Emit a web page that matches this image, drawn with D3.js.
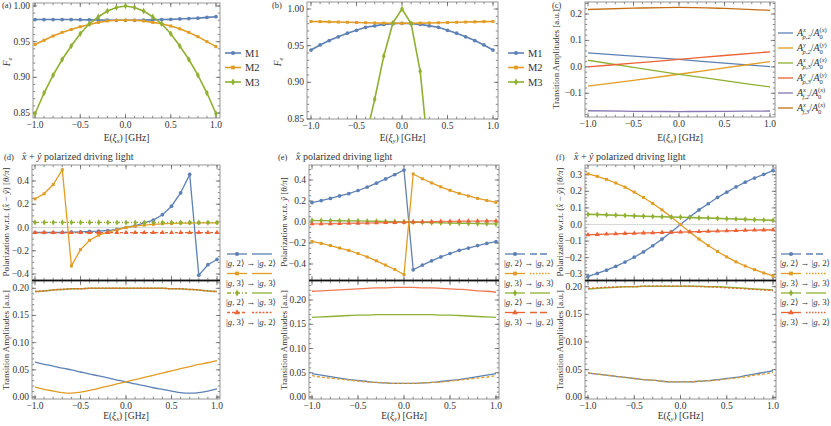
<!DOCTYPE html>
<html>
<head>
<meta charset="utf-8">
<script src="https://cdn.jsdelivr.net/npm/d3@7"></script>
<style>
body{margin:0;background:#fff;}
svg text{font-family:"Liberation Serif","Times New Roman","DejaVu Serif",serif;fill:#333;}
</style>
</head>
<body>
<script>
// ---- data ----
var xs = [-1.0,-0.9,-0.8,-0.7,-0.6,-0.5,-0.4,-0.3,-0.2,-0.1,0.0,0.1,0.2,0.3,0.4,0.5,0.6,0.7,0.8,0.9,1.0];
var xsC = [-1.0,-0.5,0.0,0.5,1.0];
var xsB3 = [-0.4,-0.3,-0.2,-0.1,0.0,0.1,0.2,0.3];
var xTicks = [-1.0,-0.5,0.0,0.5,1.0];
var fTicks = [0.85,0.90,0.95,1.00];
var cTicks = [-0.1,0.0,0.1,0.2];
var polTicksDE = [-0.4,-0.2,0.0,0.2,0.4];
var polTicksF = [-0.3,-0.2,-0.1,0.0,0.1,0.2,0.3];
var ampTicks = [0.00,0.05,0.10,0.15,0.20];
var mNames = ["M1","M2","M3"];

// (a)
var aM1 = [0.981,0.981,0.981,0.981,0.981,0.9808,0.9806,0.9804,0.9802,0.980,0.980,0.980,0.9802,0.9805,0.981,0.9813,0.9818,0.9824,0.983,0.984,0.985];
var aM2 = [0.946,0.952,0.958,0.963,0.967,0.971,0.974,0.977,0.979,0.980,0.980,0.980,0.979,0.977,0.975,0.972,0.968,0.963,0.957,0.950,0.943];
var aM3 = [0.849,0.878,0.903,0.925,0.944,0.961,0.975,0.985,0.993,0.998,1.000,0.998,0.993,0.985,0.975,0.961,0.944,0.925,0.903,0.878,0.849];
// (b)
var bM1 = [0.944,0.951,0.957,0.962,0.967,0.971,0.975,0.977,0.979,0.980,0.9805,0.980,0.979,0.977,0.975,0.971,0.967,0.962,0.957,0.951,0.944];
var bM2 = [0.983,0.9828,0.9825,0.9822,0.9819,0.9816,0.9813,0.981,0.9808,0.9806,0.9805,0.9806,0.9808,0.981,0.9813,0.9816,0.9819,0.9822,0.9825,0.9828,0.983];
var bM3 = [0.823,0.877,0.936,0.981,1.000,0.980,0.915,0.790];
// (c)
var cNames = [["x","p,2","x"],["y","p,2","y"],["x","p,3","x"],["y","p,3","y"],["x","f,2","x"],["x","f,3","x"]];
var cA1 = [0.053,0.041,0.028,0.014,0.001];
var cA2 = [-0.073,-0.051,-0.028,-0.004,0.020];
var cA3 = [0.025,-0.002,-0.028,-0.052,-0.076];
var cA4 = [0.000,0.014,0.028,0.043,0.057];
var cA5 = [-0.166,-0.168,-0.169,-0.168,-0.167];
var cA6 = [0.217,0.222,0.225,0.221,0.214];
// (d) polarization
var dBlue = [-0.043,-0.043,-0.043,-0.043,-0.040,-0.037,-0.034,-0.031,-0.026,-0.017,0.000,0.015,0.040,0.063,0.110,0.183,0.297,0.457,-0.410,-0.320,-0.275];
var dOrange = [0.246,0.290,0.370,0.497,-0.330,-0.190,-0.110,-0.066,-0.040,-0.020,0.000,0.012,0.020,0.027,0.032,0.035,0.037,0.038,0.039,0.040,0.040];
var dGreen = [0.044,0.044,0.044,0.044,0.044,0.044,0.044,0.044,0.043,0.043,0.043,0.043,0.043,0.043,0.043,0.043,0.043,0.043,0.043,0.043,0.043];
var dRed = [-0.044,-0.044,-0.044,-0.044,-0.044,-0.044,-0.044,-0.044,-0.044,-0.044,-0.044,-0.044,-0.044,-0.044,-0.044,-0.044,-0.044,-0.044,-0.044,-0.044,-0.044];
// (d) amplitudes
var dLowBlue = [0.064,0.060,0.057,0.053,0.050,0.046,0.042,0.039,0.035,0.031,0.028,0.024,0.021,0.017,0.014,0.011,0.008,0.007,0.008,0.011,0.015];
var dLowOrange = [0.018,0.014,0.011,0.008,0.007,0.009,0.012,0.016,0.020,0.024,0.028,0.032,0.036,0.040,0.044,0.048,0.052,0.056,0.060,0.063,0.067];
var dLowGreen = [0.194,0.195,0.197,0.198,0.199,0.199,0.200,0.200,0.200,0.200,0.200,0.200,0.200,0.200,0.200,0.199,0.199,0.198,0.197,0.195,0.194];
var dLowRed = [0.194,0.195,0.197,0.198,0.199,0.199,0.200,0.200,0.200,0.200,0.200,0.200,0.200,0.200,0.200,0.199,0.199,0.198,0.197,0.195,0.194];
// (e) polarization
var eBlue = [0.185,0.204,0.224,0.248,0.270,0.300,0.333,0.370,0.410,0.452,0.495,-0.455,-0.410,-0.370,-0.333,-0.300,-0.270,-0.248,-0.224,-0.204,-0.187];
var eOrange = [-0.185,-0.204,-0.224,-0.248,-0.270,-0.300,-0.333,-0.370,-0.410,-0.452,-0.500,0.458,0.412,0.372,0.335,0.302,0.272,0.248,0.225,0.205,0.187];
var eGreen = [0.015,0.014,0.013,0.012,0.011,0.010,0.008,0.007,0.005,0.003,0.001,-0.002,-0.004,-0.006,-0.008,-0.010,-0.012,-0.014,-0.015,-0.017,-0.018];
var eRed = [-0.018,-0.017,-0.016,-0.015,-0.013,-0.012,-0.010,-0.008,-0.006,-0.004,-0.002,0.000,0.002,0.003,0.005,0.006,0.007,0.008,0.009,0.010,0.011];
// (e) amplitudes
var eLowBlue = [0.048,0.045,0.042,0.039,0.036,0.034,0.032,0.030,0.029,0.028,0.028,0.028,0.029,0.030,0.032,0.034,0.036,0.039,0.042,0.045,0.048];
var eLowOrange = [0.044,0.041,0.039,0.037,0.035,0.033,0.031,0.030,0.029,0.028,0.028,0.028,0.029,0.030,0.031,0.033,0.035,0.037,0.039,0.041,0.044];
var eLowGreen = [0.164,0.165,0.166,0.167,0.168,0.169,0.169,0.170,0.170,0.170,0.170,0.170,0.170,0.170,0.169,0.169,0.168,0.167,0.166,0.165,0.164];
var eLowRed = [0.218,0.219,0.220,0.221,0.222,0.223,0.224,0.225,0.225,0.226,0.226,0.226,0.225,0.225,0.224,0.223,0.222,0.221,0.219,0.218,0.216];
// (f) polarization
var fBlue = [-0.312,-0.295,-0.275,-0.252,-0.226,-0.197,-0.165,-0.128,-0.088,-0.045,0.000,0.045,0.088,0.125,0.163,0.195,0.226,0.255,0.280,0.302,0.325];
var fOrange = [0.305,0.290,0.272,0.250,0.225,0.195,0.163,0.127,0.088,0.045,0.000,-0.045,-0.088,-0.127,-0.163,-0.195,-0.225,-0.250,-0.272,-0.292,-0.310];
var fGreen = [0.061,0.060,0.058,0.056,0.054,0.052,0.050,0.048,0.047,0.045,0.044,0.042,0.040,0.039,0.037,0.035,0.033,0.031,0.029,0.027,0.025];
var fRed = [-0.062,-0.060,-0.058,-0.056,-0.054,-0.053,-0.051,-0.050,-0.048,-0.047,-0.046,-0.044,-0.043,-0.041,-0.040,-0.038,-0.037,-0.035,-0.034,-0.033,-0.032];
// (f) amplitudes
var fLowBlue = [0.044,0.042,0.040,0.038,0.036,0.034,0.032,0.031,0.029,0.028,0.028,0.028,0.029,0.030,0.032,0.034,0.036,0.039,0.042,0.045,0.048];
var fLowOrange = [0.044,0.042,0.040,0.038,0.036,0.034,0.032,0.031,0.029,0.028,0.028,0.028,0.029,0.030,0.031,0.033,0.035,0.037,0.040,0.042,0.045];
var fLowGreen = [0.196,0.197,0.198,0.199,0.200,0.200,0.201,0.201,0.201,0.201,0.201,0.201,0.201,0.200,0.200,0.199,0.198,0.197,0.196,0.195,0.194];
var fLowRed = [0.197,0.198,0.199,0.199,0.200,0.200,0.201,0.201,0.201,0.201,0.201,0.201,0.200,0.200,0.199,0.198,0.197,0.196,0.195,0.194,0.193];

var C = {blue:"#5e81b5", orange:"#e19c24", green:"#8fb032", red:"#eb6235", purple:"#8778b3", brown:"#c56e1a"};
var symbols = {circle:d3.symbolCircle, square:d3.symbolSquare, diamond:d3.symbolDiamond, triangle:d3.symbolTriangle};
var SERIF = "'Liberation Serif','Times New Roman','DejaVu Serif',serif";

var svg = d3.select("body").append("svg")
  .attr("width", 831).attr("height", 426)
  .attr("font-family", SERIF);
var defs = svg.append("defs");
var clipId = 0;

function minus(s){ return s.replace("-", "\u2212"); }

// frame with inward major/minor ticks on all sides, Mathematica style
function frame(box, x, y, yTicks, yFmt, yStep, showX){
  var L = box[0], R = box[1], T = box[2], B = box[3];
  var g = svg.append("g");
  var xMinor = d3.range(-10, 11).map(function(d){ return d/10; });
  var y0 = y.invert(B), y1 = y.invert(T);
  var yMinor = d3.range(Math.ceil(y0/yStep - 1e-6), Math.floor(y1/yStep + 1e-6) + 1).map(function(k){ return k*yStep; });
  function tk(vals, len, axis){
    vals.forEach(function(v){
      if (axis == "x"){
        var px = x(v);
        if (px < L || px > R) return;
        g.append("line").attr("x1",px).attr("x2",px).attr("y1",B).attr("y2",B-len).attr("stroke","#555").attr("stroke-width",0.7);
        g.append("line").attr("x1",px).attr("x2",px).attr("y1",T).attr("y2",T+len).attr("stroke","#555").attr("stroke-width",0.7);
      } else {
        var py = y(v);
        if (py < T-0.5 || py > B+0.5) return;
        g.append("line").attr("y1",py).attr("y2",py).attr("x1",L).attr("x2",L+len).attr("stroke","#555").attr("stroke-width",0.7);
        g.append("line").attr("y1",py).attr("y2",py).attr("x1",R).attr("x2",R-len).attr("stroke","#555").attr("stroke-width",0.7);
      }
    });
  }
  tk(xMinor, 2.2, "x");
  tk(xTicks, 4.2, "x");
  tk(yMinor, 2.2, "y");
  tk(yTicks, 4.2, "y");
  g.append("rect").attr("x",L).attr("y",T).attr("width",R-L).attr("height",B-T)
    .attr("fill","none").attr("stroke","#8a8a8a").attr("stroke-width",0.9);
  yTicks.forEach(function(v){
    g.append("text").attr("x", L-3).attr("y", y(v)+3).attr("text-anchor","end")
      .attr("font-size", 9.5).text(minus(yFmt(v)));
  });
  if (showX){
    xTicks.forEach(function(v){
      g.append("text").attr("x", x(v)).attr("y", B+10).attr("text-anchor","middle")
        .attr("font-size", 9.5).text(minus(d3.format(".1f")(v)));
    });
  }
  var id = "clip" + (clipId++);
  defs.append("clipPath").attr("id", id).append("rect")
    .attr("x",L).attr("y",T).attr("width",R-L).attr("height",B-T);
  return svg.append("g").attr("clip-path","url(#"+id+")");
}

function series(g, xv, yv, x, y, st){
  var line = d3.line().x(function(d){ return x(d[0]); }).y(function(d){ return y(d[1]); });
  if (st.smooth) line.curve(d3.curveMonotoneX);
  var pts = xv.map(function(v,i){ return [v, yv[i]]; });
  g.append("path").datum(pts).attr("d", line).attr("fill","none")
    .attr("stroke", st.color).attr("stroke-width", st.width || 1.3)
    .attr("stroke-dasharray", st.dash || null).attr("stroke-opacity", st.opacity || 1);
  if (st.marker){
    g.selectAll(null).data(pts).enter().append("path")
      .attr("d", d3.symbol().type(symbols[st.marker]).size(st.msize || 11))
      .attr("transform", function(d){ return "translate("+x(d[0])+","+y(d[1])+")"; })
      .attr("fill", st.color);
  }
}

function ylabel(px, py, fs, build){
  var t = svg.append("text").attr("transform","translate("+px+","+py+") rotate(-90)")
    .attr("text-anchor","middle").attr("font-size", fs);
  build(t);
  return t;
}
function xlabel(px, py, sub){
  var t = svg.append("text").attr("x",px).attr("y",py).attr("text-anchor","middle").attr("font-size",9.5);
  t.append("tspan").text("E(");
  t.append("tspan").attr("font-style","italic").text("\u03be");
  t.append("tspan").attr("font-style","italic").attr("font-size",6.5).attr("dy",2).text(sub);
  t.append("tspan").attr("dy",-2).text(") [GHz]");
}
function tag(px, py, s){
  svg.append("text").attr("x",px).attr("y",py).attr("font-size",8.5).text(s);
}
function feLabel(px){
  ylabel(px, 62, 9.5, function(t){
    t.append("tspan").attr("font-style","italic").text("F");
    t.append("tspan").attr("font-style","italic").attr("font-size",6.5).attr("dy",2).text("e");
  });
}
function ampLabel(px, py){
  ylabel(px, py, 8.5, function(t){ t.text("Transition Amplitudes [a.u.]"); })
    .attr("textLength", 100).attr("lengthAdjust", "spacingAndGlyphs");
}
function polLabel(px, py, diag){
  ylabel(px, py, 9, function(t){
    t.append("tspan").text("Polarization w.r.t. ");
    if (diag){
      t.append("tspan").text("(");
      t.append("tspan").attr("font-style","italic").text("x\u0302");
      t.append("tspan").text(" \u2212 ");
      t.append("tspan").attr("font-style","italic").text("y\u0302");
      t.append("tspan").text(")");
    } else {
      t.append("tspan").attr("font-style","italic").text("y\u0302");
    }
    t.append("tspan").text(" [");
    t.append("tspan").attr("font-style","italic").text("\u03b8/\u03c0");
    t.append("tspan").text("]");
  });
}
function title(px, py, tx, diag){
  tag(px, py, tx);
  var t = svg.append("text").attr("x", px + 18).attr("y", py).attr("font-size", 10);
  t.append("tspan").attr("font-style","italic").text("x\u0302");
  if (diag){
    t.append("tspan").text(" + ");
    t.append("tspan").attr("font-style","italic").text("y\u0302");
  }
  t.append("tspan").text(" polarized driving light");
}

// ---------- (a) and (b) ----------
function fidelity(box, xr, yr, tagX, labelX, legX, m1, m2, m3, m3x, sub){
  var x = d3.scaleLinear().domain([-1,1]).range(xr);
  var y = d3.scaleLinear().domain([0.85,1.00]).range(yr);
  var g = frame(box, x, y, fTicks, d3.format(".2f"), 0.01, true);
  series(g, xs, m1, x, y, {color:C.blue, width:1.6, marker:"circle"});
  series(g, xs, m2, x, y, {color:C.orange, width:1.6, marker:"square", msize:9});
  series(g, m3x, m3, x, y, {color:C.green, width:1.6, marker:"diamond", msize:12});
  tag(tagX, 8, sub == "x" ? "(a)" : "(b)");
  feLabel(labelX);
  xlabel((box[0]+box[1])/2, 141, sub);
  var cols = [C.blue, C.orange, C.green], mk = ["circle","square","diamond"];
  mNames.forEach(function(n,i){
    var ly = 53 + i*14.5;
    var lg = svg.append("g");
    var lx = d3.scaleLinear().domain([0,1]).range([legX, legX+16]);
    var ls = d3.scaleLinear().domain([0,1]).range([ly, ly]);
    series(lg, [0,1], [0.5,0.5], lx, ls, {color:cols[i], width:1.6});
    series(lg, [0.5], [0.5], lx, ls, {color:cols[i], width:0, marker:mk[i], msize:14});
    svg.append("text").attr("x", legX+20).attr("y", ly+3.5).attr("font-size",10.5).text(n);
  });
}
fidelity([33,220,3,118], [35,216], [113,6], 2, 10, 225, aM1, aM2, aM3, xs, "x");
fidelity([307,498,2,119], [311,493], [119,9], 272, 281, 508, bM1, bM2, bM3, xsB3, "y");

// ---------- (c) ----------
(function(){
  var box = [585,775,2,117];
  var x = d3.scaleLinear().domain([-1,1]).range([588,770]);
  var y = d3.scaleLinear().domain([-0.1,0.2]).range([93.3,14]);
  var g = frame(box, x, y, cTicks, d3.format(".1f"), 0.02, true);
  var sets = [cA1,cA2,cA3,cA4,cA5,cA6];
  var cols = [C.blue,C.orange,C.green,C.red,C.purple,C.brown];
  sets.forEach(function(s,i){ series(g, xsC, s, x, y, {color:cols[i], width:1.3, smooth:true}); });
  tag(552, 8, "(c)");
  ampLabel(559, 59);
  xlabel(680, 141, "x");
  cNames.forEach(function(n,i){
    var ly = 33 + i*15;
    var lg = svg.append("g");
    var lx = d3.scaleLinear().domain([0,1]).range([778,793]);
    var ls = d3.scaleLinear().domain([0,1]).range([ly,ly]);
    series(lg, [0,1], [0,0], lx, ls, {color:cols[i], width:1.3});
    var t = svg.append("text").attr("x", 797).attr("y", ly+3).attr("font-size", 10);
    t.append("tspan").attr("font-style","italic").text("A");
    t.append("tspan").attr("font-style","italic").attr("font-size",6.5).attr("dy",-4).text(n[0]);
    t.append("tspan").attr("font-style","italic").attr("font-size",6.5).attr("dx",-3.5).attr("dy",7).text(n[1]);
    t.append("tspan").attr("dy",-3).text("/");
    t.append("tspan").attr("font-style","italic").text("A");
    t.append("tspan").attr("font-size",6.5).attr("dy",3).text("0");
    t.append("tspan").attr("font-size",6.5).attr("dx",-3.3).attr("dy",-7.5).text("(");
    t.append("tspan").attr("font-size",6.5).attr("font-style","italic").text(n[2]);
    t.append("tspan").attr("font-size",6.5).text(")");
  });
})();

// ---------- (d), (e), (f) ----------
var states = [["2","2"],["3","3"],["2","3"],["3","2"]];
function combo(o){
  var xr = o.xr;
  var x = d3.scaleLinear().domain([-1,1]).range(xr);
  var yU = d3.scaleLinear().domain([o.uTicks[0], o.uTicks[o.uTicks.length-1]]).range(o.uRange);
  var yL = d3.scaleLinear().domain([0,0.2]).range(o.lRange);
  var gU = frame([o.L,o.R,165,280], x, yU, o.uTicks, d3.format(".1f"), o.uStep, false);
  gU.append("line").attr("x1",o.L).attr("x2",o.R).attr("y1",yU(0)).attr("y2",yU(0))
    .attr("stroke","#cfcfcf").attr("stroke-width",0.8);
  o.upper.forEach(function(s){ series(gU, xs, s.data, x, yU, s.st); });
  var gL = frame([o.L,o.R,281,399], x, yL, ampTicks, d3.format(".2f"), 0.01, true);
  o.lower.forEach(function(s){ series(gL, xs, s.data, x, yL, s.st); });
  svg.append("line").attr("x1",o.L).attr("x2",o.R).attr("y1",280.5).attr("y2",280.5)
    .attr("stroke","#111").attr("stroke-width",1.6);
  title(o.tagX, 160, o.tag, o.diag);
  polLabel(o.labX, 222, o.diagLabel);
  ampLabel(o.labX, 340);
  xlabel((o.L+o.R)/2, 419, o.sub);
  // legend
  var rows = [254, 273.5, 293, 312.5];
  o.legend.forEach(function(st,i){
    var ly = rows[i];
    var lg = svg.append("g");
    var lx = d3.scaleLinear().domain([0,1]).range([o.legX, o.legX+20]);
    var lx2 = d3.scaleLinear().domain([0,1]).range([o.legX+25, o.legX+45]);
    var ls = d3.scaleLinear().domain([0,1]).range([ly,ly]);
    series(lg, [0,1], [0,0], lx, ls, {color:st.color, width:1.3, dash:st.d1});
    series(lg, [0.5], [0], lx, ls, {color:st.color, width:0, marker:st.marker, msize:14});
    series(lg, [0,1], [0,0], lx2, ls, {color:st.color, width:1.3, dash:st.d2});
    var t = svg.append("text").attr("x", o.legX-1).attr("y", ly+12).attr("font-size", 8.8);
    t.append("tspan").text("|");
    t.append("tspan").attr("font-style","italic").text("g");
    t.append("tspan").text(", " + states[i][0] + "\u27e9 \u2192 |");
    t.append("tspan").attr("font-style","italic").text("g");
    t.append("tspan").text(", " + states[i][1] + "\u27e9");
  });
}

combo({
  L:32, R:220, xr:[35,217], uTicks:polTicksDE, uRange:[274,181], uStep:0.05, lRange:[397,288.3],
  tag:"(d)", tagX:4, diag:true, diagLabel:true, labX:9, legX:227, sub:"x",
  upper:[
    {data:dBlue, st:{color:C.blue, marker:"circle"}},
    {data:dOrange, st:{color:C.orange, marker:"square", msize:9}},
    {data:dGreen, st:{color:C.green, marker:"diamond", dash:"4,2,1,2"}},
    {data:dRed, st:{color:C.red, marker:"triangle", dash:"3,2"}}
  ],
  lower:[
    {data:dLowBlue, st:{color:C.blue, smooth:true}},
    {data:dLowOrange, st:{color:C.orange, smooth:true}},
    {data:dLowGreen, st:{color:C.green, smooth:true, width:1.5}},
    {data:dLowRed, st:{color:C.red, smooth:true, dash:"2,1.5", width:1.5}}
  ],
  legend:[
    {color:C.blue, marker:"circle"},
    {color:C.orange, marker:"square"},
    {color:C.green, marker:"diamond", d1:"4,2,1,2"},
    {color:C.red, marker:"triangle", d1:"3,2", d2:"2,1.5"}
  ]
});

combo({
  L:309, R:499, xr:[312,496], uTicks:polTicksDE, uRange:[264,180], uStep:0.05, lRange:[397,300],
  tag:"(e)", tagX:278, diag:false, diagLabel:false, labX:287, legX:505, sub:"y",
  upper:[
    {data:eBlue, st:{color:C.blue, marker:"circle"}},
    {data:eOrange, st:{color:C.orange, marker:"square", msize:9}},
    {data:eGreen, st:{color:C.green, marker:"diamond"}},
    {data:eRed, st:{color:C.red, marker:"triangle", opacity:0.8}}
  ],
  lower:[
    {data:eLowBlue, st:{color:C.blue, smooth:true}},
    {data:eLowOrange, st:{color:C.orange, smooth:true, dash:"3,2"}},
    {data:eLowGreen, st:{color:C.green, smooth:true}},
    {data:eLowRed, st:{color:C.red, smooth:true, opacity:0.85}}
  ],
  legend:[
    {color:C.blue, marker:"circle", d2:"7,3"},
    {color:C.orange, marker:"square", d2:"1.5,1.5"},
    {color:C.green, marker:"diamond"},
    {color:C.red, marker:"triangle", d2:"7,3"}
  ]
});

combo({
  L:585, R:776, xr:[588,773], uTicks:polTicksF, uRange:[274.3,174.7], uStep:0.02, lRange:[397.3,286.7],
  tag:"(f)", tagX:556, diag:true, diagLabel:true, labX:563, legX:781, sub:"y",
  upper:[
    {data:fBlue, st:{color:C.blue, marker:"circle"}},
    {data:fOrange, st:{color:C.orange, marker:"square", msize:9}},
    {data:fGreen, st:{color:C.green, marker:"diamond", width:1.6}},
    {data:fRed, st:{color:C.red, marker:"triangle"}}
  ],
  lower:[
    {data:fLowBlue, st:{color:C.blue, smooth:true}},
    {data:fLowOrange, st:{color:C.orange, smooth:true, dash:"3,2"}},
    {data:fLowGreen, st:{color:C.green, smooth:true, width:1.5}},
    {data:fLowRed, st:{color:C.red, smooth:true, dash:"2,2"}}
  ],
  legend:[
    {color:C.blue, marker:"circle", d2:"7,3"},
    {color:C.orange, marker:"square", d2:"1.5,1.5"},
    {color:C.green, marker:"diamond"},
    {color:C.red, marker:"triangle", d2:"1.5,1.5"}
  ]
});
</script>
</body>
</html>
